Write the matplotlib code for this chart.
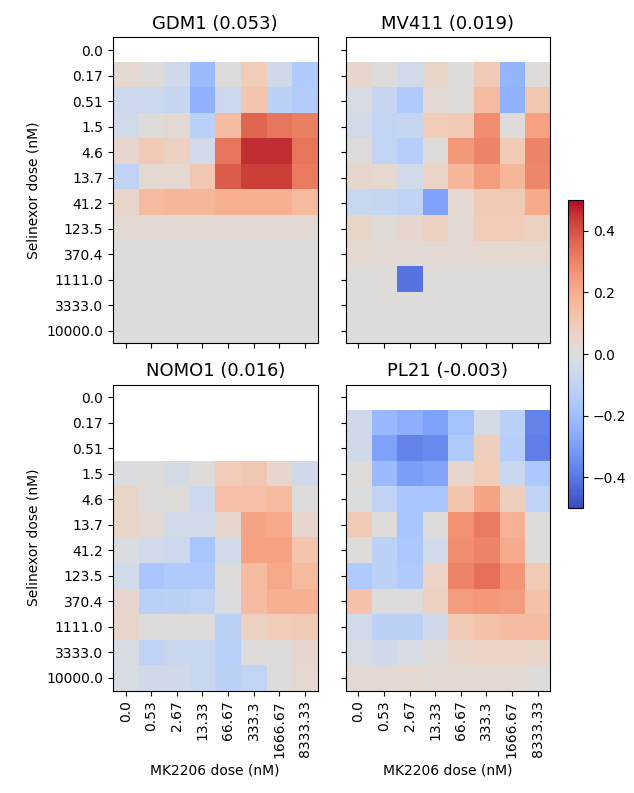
import numpy as np
import matplotlib
matplotlib.use("Agg")
import matplotlib.pyplot as plt

nan = np.nan

selinexor = ["0.0", "0.17", "0.51", "1.5", "4.6", "13.7", "41.2",
             "123.5", "370.4", "1111.0", "3333.0", "10000.0"]
mk2206 = ["0.0", "0.53", "2.67", "13.33", "66.67", "333.3", "1666.67", "8333.33"]

gdm1 = [
    [nan] * 8,
    [0.03, 0.01, -0.05, -0.21, 0.0, 0.09, -0.05, -0.15],
    [-0.06, -0.06, -0.08, -0.24, -0.06, 0.12, -0.11, -0.14],
    [-0.04, 0.0, 0.02, -0.12, 0.15, 0.36, 0.33, 0.31],
    [0.04, 0.10, 0.07, -0.04, 0.33, 0.46, 0.46, 0.33],
    [-0.10, 0.03, 0.03, 0.11, 0.38, 0.43, 0.43, 0.32],
    [0.05, 0.16, 0.17, 0.17, 0.19, 0.19, 0.19, 0.16],
    [0.02, 0.02, 0.02, 0.02, 0.02, 0.02, 0.02, 0.02],
    [0.0, 0.0, 0.0, 0.0, 0.0, 0.0, 0.0, 0.0],
    [0.0, 0.0, 0.0, 0.0, 0.0, 0.0, 0.0, 0.0],
    [0.0, 0.0, 0.0, 0.0, 0.0, 0.0, 0.0, 0.0],
    [0.0, 0.0, 0.0, 0.0, 0.0, 0.0, 0.0, 0.0],
]

mv411 = [
    [nan] * 8,
    [0.04, 0.0, -0.04, 0.05, 0.0, 0.10, -0.23, 0.01],
    [-0.02, -0.08, -0.15, 0.02, 0.01, 0.15, -0.24, 0.11],
    [-0.04, -0.09, -0.08, 0.09, 0.10, 0.28, 0.0, 0.23],
    [0.0, -0.09, -0.13, 0.01, 0.25, 0.30, 0.10, 0.30],
    [0.04, 0.03, -0.04, 0.06, 0.17, 0.24, 0.17, 0.29],
    [-0.07, -0.08, -0.10, -0.29, 0.03, 0.10, 0.10, 0.20],
    [0.05, 0.01, 0.04, 0.07, 0.02, 0.09, 0.09, 0.07],
    [0.03, 0.02, 0.02, 0.02, 0.02, 0.03, 0.03, 0.03],
    [0.0, 0.0, -0.41, 0.0, 0.0, 0.0, 0.0, 0.0],
    [0.0, 0.0, 0.0, 0.0, 0.0, 0.0, 0.0, 0.0],
    [0.0, 0.0, 0.0, 0.0, 0.0, 0.0, 0.0, 0.0],
]

nomo1 = [
    [nan] * 8,
    [nan] * 8,
    [nan] * 8,
    [-0.01, 0.01, -0.03, 0.01, 0.09, 0.11, 0.04, -0.05],
    [0.05, 0.01, 0.01, -0.06, 0.14, 0.14, 0.16, 0.0],
    [0.05, 0.02, -0.04, -0.04, 0.04, 0.22, 0.21, 0.04],
    [-0.01, -0.04, -0.06, -0.17, -0.04, 0.23, 0.23, 0.12],
    [-0.04, -0.17, -0.15, -0.15, 0.0, 0.15, 0.21, 0.16],
    [0.04, -0.12, -0.11, -0.10, -0.01, 0.15, 0.19, 0.19],
    [0.05, 0.0, 0.0, 0.0, -0.11, 0.07, 0.09, 0.10],
    [-0.02, -0.10, -0.07, -0.07, -0.12, 0.0, 0.0, 0.04],
    [-0.02, -0.05, -0.05, -0.07, -0.11, -0.09, 0.0, 0.03],
]

pl21 = [
    [nan] * 8,
    [-0.05, -0.22, -0.25, -0.29, -0.18, -0.03, -0.12, -0.37],
    [-0.05, -0.29, -0.37, -0.35, -0.15, 0.08, -0.13, -0.38],
    [0.01, -0.21, -0.30, -0.28, 0.04, 0.09, -0.07, -0.16],
    [-0.01, -0.10, -0.17, -0.17, 0.12, 0.22, 0.08, -0.10],
    [0.10, 0.0, -0.17, 0.0, 0.27, 0.32, 0.18, 0.0],
    [0.0, -0.11, -0.16, -0.04, 0.28, 0.30, 0.20, 0.0],
    [-0.15, -0.11, -0.15, 0.06, 0.30, 0.34, 0.26, 0.10],
    [0.13, 0.0, 0.0, 0.07, 0.24, 0.25, 0.24, 0.13],
    [-0.04, -0.11, -0.11, -0.05, 0.10, 0.13, 0.15, 0.15],
    [-0.02, -0.05, -0.02, 0.01, 0.05, 0.06, 0.06, 0.05],
    [0.02, 0.02, 0.03, 0.02, 0.02, 0.02, 0.02, 0.0],
]

titles = ["GDM1 (0.053)", "MV411 (0.019)", "NOMO1 (0.016)", "PL21 (-0.003)"]
grids = [gdm1, mv411, nomo1, pl21]

fig, axes = plt.subplots(2, 2, figsize=(6.34, 7.93), dpi=100, sharex=True, sharey=True)
fig.subplots_adjust(left=0.178, right=0.868, bottom=0.129, top=0.953,
                    wspace=0.137, hspace=0.134)

for ax, grid, title in zip(axes.flat, grids, titles):
    im = ax.imshow(np.array(grid), cmap="coolwarm", vmin=-0.5, vmax=0.5, aspect="auto")
    ax.set_title(title, fontsize=13)

for ax in axes[:, 0]:
    ax.set_yticks(range(len(selinexor)))
    ax.set_yticklabels(selinexor)
    ax.set_ylabel("Selinexor dose (nM)")
for ax in axes[1, :]:
    ax.set_xticks(range(len(mk2206)))
    ax.set_xticklabels(mk2206, rotation=90)
    ax.set_xlabel("MK2206 dose (nM)")

cax = fig.add_axes([0.896, 0.359, 0.024, 0.389])
fig.colorbar(im, cax=cax, ticks=[-0.4, -0.2, 0.0, 0.2, 0.4])

fig.savefig("out.png")
